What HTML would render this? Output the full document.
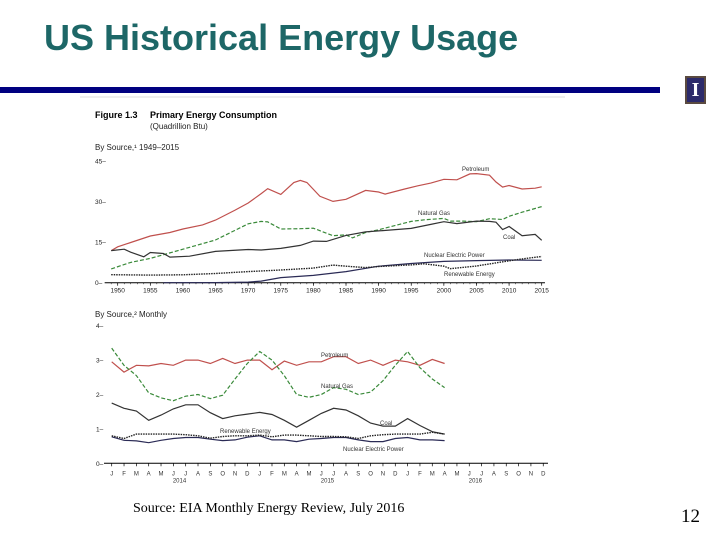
<!DOCTYPE html>
<html><head><meta charset="utf-8"><style>
html,body{margin:0;padding:0;background:#fff;width:720px;height:540px;overflow:hidden;position:relative;font-family:"Liberation Sans",sans-serif}
.title{position:absolute;left:44px;top:17px;font-size:36px;font-weight:bold;color:#1d6767;line-height:42px}
.bar{position:absolute;left:0;top:87px;width:660px;height:6px;background:#000080}
.logo{position:absolute;left:685px;top:76px;width:21px;height:28px;background:#5a4a40;}
.logo div{position:absolute;left:2px;top:2px;width:17px;height:24px;background:#2c2a6a;color:#fff;font:bold 20px "Liberation Serif",serif;text-align:center;line-height:24px}
.src{position:absolute;left:133px;top:501px;font:14px "Liberation Serif",serif;color:#000}
.pg{position:absolute;left:681px;top:506px;font:19px "Liberation Serif",serif;color:#000}
svg{position:absolute;left:0;top:0}
</style></head><body>
<div class="title">US Historical Energy Usage</div>
<div class="bar"></div>
<div class="logo"><div>I</div></div>
<div class="src">Source: EIA Monthly Energy Review, July 2016</div>
<div class="pg">12</div>
<svg id="chart" width="720" height="540">
<line x1="80" y1="97" x2="565" y2="97" stroke="#ddd" stroke-width="1"/>
<text x="95" y="118" font-size="9" font-weight="bold" fill="#000">Figure 1.3</text>
<text x="150" y="118" font-size="9" font-weight="bold" fill="#000">Primary Energy Consumption</text>
<text x="150" y="129" font-size="8" fill="#222">(Quadrillion Btu)</text>
<text x="95" y="150" font-size="8" fill="#222">By Source,¹ 1949–2015</text>
<text x="95" y="317" font-size="8" fill="#222">By Source,² Monthly</text>
<g id="g1"></g><g id="g2"></g>
</svg>
<script>
// Annual chart data
const yearsPet=[1949,1950,1952,1955,1958,1960,1963,1965,1968,1970,1972,1973,1975,1977,1978,1979,1981,1983,1985,1988,1990,1991,1994,1996,1998,2000,2002,2004,2005,2007,2008,2009,2010,2012,2014,2015];
const petroleum=[11.9,13.3,14.9,17.3,18.6,19.9,21.4,23.2,26.9,29.5,33.0,34.8,32.7,37.1,37.9,37.1,32,30.1,30.9,34.2,33.6,32.8,34.7,35.9,36.9,38.3,38.1,40.3,40.4,39.8,37.3,35.4,36,34.7,35,35.5];
const yearsGas=[1949,1952,1955,1960,1965,1970,1972,1973,1975,1978,1980,1983,1985,1986,1988,1990,1995,1997,2000,2001,2003,2005,2007,2009,2010,2012,2015];
const naturalGas=[5.1,7.5,9.0,12.4,15.8,21.8,22.7,22.5,19.9,20.0,20.2,17.4,17.7,16.6,18.6,19.6,22.7,23.3,23.8,22.8,22.8,22.6,23.7,23.4,24.6,26.1,28.2];
const yearsCoal=[1949,1951,1952,1954,1955,1957,1958,1961,1965,1970,1972,1975,1978,1980,1982,1985,1988,1990,1995,1998,2000,2002,2005,2007,2008,2009,2010,2012,2014,2015];
const coal=[11.9,12.4,11.3,9.6,11.2,10.8,9.5,9.8,11.6,12.3,12.1,12.7,13.8,15.4,15.3,17.5,18.8,19.2,20.1,21.6,22.6,21.9,22.8,22.7,22.4,19.7,20.8,17.4,17.9,15.7];
const yearsNuc=[1957,1965,1970,1972,1975,1980,1985,1990,1995,2000,2005,2010,2015];
const nuclear=[0,0.04,0.24,0.6,1.9,2.7,4.1,6.1,7.1,7.9,8.2,8.4,8.3];
const yearsRen=[1949,1955,1960,1965,1970,1975,1980,1983,1985,1988,1990,1995,1997,2000,2001,2005,2010,2012,2015];
const renewable=[2.97,2.8,2.93,3.4,4.1,4.7,5.4,6.5,6.1,5.6,6.0,6.6,7.0,6.1,5.2,6.2,8.1,8.8,9.7];
const yTicks1=[0,15,30,45];
const xTicks1=[1950,1955,1960,1965,1970,1975,1980,1985,1990,1995,2000,2005,2010,2015];
// Monthly chart data (Jan 2014 - Apr 2016)
const monthLabels=["J","F","M","A","M","J","J","A","S","O","N","D"];
const yearLabels=["2014","2015","2016"];
const mPetroleum=[2.95,2.65,2.85,2.83,2.9,2.85,3.0,3.0,2.9,3.05,2.9,3.0,3.0,2.72,2.97,2.85,2.95,2.95,3.1,3.1,2.9,3.0,2.85,3.0,2.95,2.85,3.02,2.9];
const mNaturalGas=[3.35,2.85,2.55,2.05,1.9,1.82,1.95,2.0,1.88,1.98,2.45,2.9,3.25,3.0,2.55,2.0,1.92,2.0,2.2,2.15,2.0,2.07,2.4,2.85,3.25,2.78,2.45,2.2];
const mCoal=[1.75,1.6,1.52,1.25,1.4,1.58,1.7,1.7,1.47,1.3,1.38,1.43,1.48,1.42,1.25,1.05,1.25,1.45,1.6,1.55,1.38,1.17,1.08,1.08,1.3,1.1,0.92,0.85];
const mRenewable=[0.8,0.72,0.85,0.85,0.85,0.85,0.83,0.8,0.73,0.78,0.8,0.8,0.82,0.77,0.82,0.82,0.8,0.78,0.78,0.77,0.72,0.8,0.83,0.85,0.85,0.85,0.9,0.85];
const mNuclear=[0.77,0.67,0.65,0.6,0.67,0.72,0.75,0.75,0.7,0.66,0.68,0.76,0.8,0.68,0.68,0.63,0.7,0.72,0.75,0.75,0.68,0.63,0.63,0.72,0.75,0.68,0.68,0.66];
const yTicks2=[0,1,2,3,4];

const NS="http://www.w3.org/2000/svg";
function mk(parent,tag,attrs){const e=document.createElementNS(NS,tag);for(const k in attrs)e.setAttribute(k,attrs[k]);parent.appendChild(e);return e;}
const x1=y=>117.7+(y-1950)*(541.7-117.7)/65;
const y1=v=>282.7-v*2.7;
const x2=i=>111.7+i*12.33;
const y2=v=>463.3-v*34.4;
const g1=document.getElementById('g1'),g2=document.getElementById('g2');

let ax=mk(g1,'line',{x1:x1(1948),y1:y1(0),x2:x1(2015.5),y2:y1(0),stroke:'#000','stroke-width':1});

xTicks1.forEach(t=>{
  mk(g1,'line',{x1:x1(t),y1:y1(0),x2:x1(t),y2:y1(0)+3,stroke:'#000','stroke-width':0.7});
  const tx=mk(g1,'text',{x:x1(t),y:y1(0)+10,'font-size':6.5,'text-anchor':'middle',fill:'#222'});tx.textContent=t;
  
});
for(let t=1949;t<=2015;t++)mk(g1,'line',{x1:x1(t),y1:y1(0),x2:x1(t),y2:y1(0)+1.5,stroke:'#000','stroke-width':0.5});
yTicks1.forEach(t=>{
  const tx=mk(g1,'text',{x:95,y:y1(t)+2.5,'font-size':6.5,fill:'#222'});tx.textContent=t+'–';
  
});
function line(g,xs,ys,xf,yf,color,dash,w,name){
  const d=xs.map((x,i)=>(i?'L':'M')+xf(x).toFixed(1)+','+yf(ys[i]).toFixed(1)).join('');
  const p=mk(g,'path',{d:d,fill:'none',stroke:color,'stroke-width':w});
  if(dash)p.setAttribute('stroke-dasharray',dash);
  
}
line(g1,yearsPet,petroleum,x1,y1,'#c0504d',null,1.2,'petroleum-line');
line(g1,yearsGas,naturalGas,x1,y1,'#3a8a3a','4,2',1.2,'natural-gas-line');
line(g1,yearsCoal,coal,x1,y1,'#333',null,1.2,'coal-line');
line(g1,yearsNuc,nuclear,x1,y1,'#2a2a55',null,1.2,'nuclear-line');
line(g1,yearsRen,renewable,x1,y1,'#222','1.5,1',1.4,'renewable-line');
[['Petroleum',462,171],['Natural Gas',418,215],['Coal',503,239],['Nuclear Electric Power',424,257],['Renewable Energy',444,276]].forEach(l=>{
  const t=mk(g1,'text',{x:l[1],y:l[2],'font-size':6,fill:'#333'});t.textContent=l[0];
  
});

ax=mk(g2,'line',{x1:104,y1:y2(0),x2:548,y2:y2(0),stroke:'#000','stroke-width':1});

for(let i=0;i<36;i++){
  mk(g2,'line',{x1:x2(i),y1:y2(0),x2:x2(i),y2:y2(0)+3,stroke:'#000','stroke-width':0.7});
  const t=mk(g2,'text',{x:x2(i),y:y2(0)+12,'font-size':6,'text-anchor':'middle',fill:'#333'});t.textContent=monthLabels[i%12];
  
}
yearLabels.forEach((yl,k)=>{
  const t=mk(g2,'text',{x:x2(k*12+5.5),y:y2(0)+19,'font-size':6,'text-anchor':'middle',fill:'#333'});t.textContent=yl;
  
});
yTicks2.forEach(v=>{
  const t=mk(g2,'text',{x:96,y:y2(v)+2.5,'font-size':6.5,fill:'#222'});t.textContent=v+'–';
  
});
const idx=mPetroleum.map((_,i)=>i);
line(g2,idx,mPetroleum,x2,y2,'#c0504d',null,1.2,'monthly-petroleum-line');
line(g2,idx,mNaturalGas,x2,y2,'#3a8a3a','4,2',1.2,'monthly-natural-gas-line');
line(g2,idx,mCoal,x2,y2,'#333',null,1.2,'monthly-coal-line');
line(g2,idx,mNuclear,x2,y2,'#2a2a55',null,1.2,'monthly-nuclear-line');
line(g2,idx,mRenewable,x2,y2,'#222','1.5,1',1.4,'monthly-renewable-line');
[['Petroleum',321,357],['Natural Gas',321,388],['Coal',380,425],['Renewable Energy',220,433],['Nuclear Electric Power',343,451]].forEach(l=>{
  const t=mk(g2,'text',{x:l[1],y:l[2],'font-size':6,fill:'#333'});t.textContent=l[0];
  
});
</script>
</body></html>
